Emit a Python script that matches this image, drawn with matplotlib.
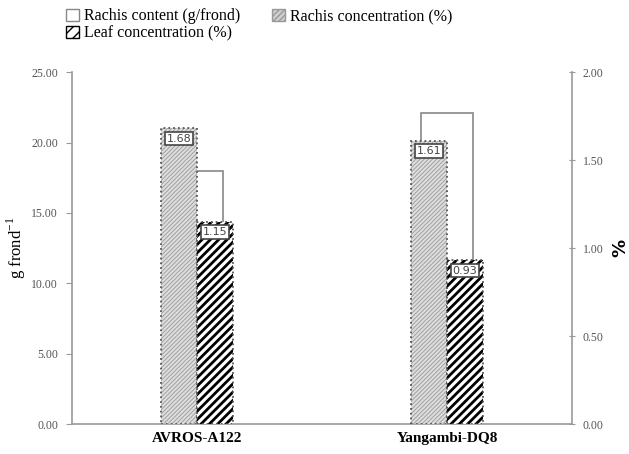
import matplotlib.pyplot as plt
import matplotlib as mpl
from matplotlib.patches import Patch
import numpy as np

# data
cultivars = ['AVROS-A122', 'Yangambi-DQ8']
rachis_content = [18.0, 22.1]      # g/frond, left axis
rachis_conc = [1.68, 1.61]         # %, right axis
leaf_conc = [1.15, 0.93]           # %, right axis

serif = ['Liberation Serif', 'DejaVu Serif']
grey_txt = '#555555'
plt.rcParams['mathtext.fontset'] = 'custom'
plt.rcParams['mathtext.rm'] = 'Liberation Serif'

fig = plt.figure(figsize=(6.29, 4.54), dpi=100)
ax = fig.add_axes([0.1145, 0.066, 0.795, 0.775])
ax2 = ax.twinx()

x = np.arange(len(cultivars))
w = 0.144

# rachis content (primary axis, behind)
ax.bar(x, rachis_content, width=0.21, color='white', edgecolor='#888888', linewidth=1.2)

# rachis concentration - fine light hatch
with mpl.rc_context({'hatch.linewidth': 0.7}):
    ax2.bar(x - w / 2, rachis_conc, width=w, color='#dedede', edgecolor='#a0a0a0',
            hatch='////////', linewidth=0)
ax2.bar(x - w / 2, rachis_conc, width=w, fill=False, edgecolor='#555555',
        linewidth=1.3, linestyle=':')

# leaf concentration - bold black hatch
with mpl.rc_context({'hatch.linewidth': 2.0}):
    ax2.bar(x + w / 2, leaf_conc, width=w, color='white', edgecolor='black',
            hatch='////', linewidth=0)
ax2.bar(x + w / 2, leaf_conc, width=w, fill=False, edgecolor='#555555',
        linewidth=1.3, linestyle=':')

# value boxes at top of the % bars
for xi, v in zip(x - w / 2, rachis_conc):
    ax2.text(xi, v - 0.03, f'{v:.2f}', ha='center', va='top', fontsize=8,
             color='#444444', bbox=dict(boxstyle='square,pad=0.15', fc='white',
                                        ec='#444444', lw=1.2))
for xi, v in zip(x + w / 2, leaf_conc):
    ax2.text(xi, v - 0.03, f'{v:.2f}', ha='center', va='top', fontsize=8,
             color='#444444', bbox=dict(boxstyle='square,pad=0.15', fc='white',
                                        ec='#444444', lw=1.2))

ax.set_xlim(-0.5, 1.5)
ax.set_ylim(0, 25)
ax2.set_ylim(0, 2)
ax.set_yticks(np.arange(0, 26, 5))
ax.set_yticklabels([f'{t:.2f}' for t in np.arange(0, 26, 5)])
ax2.set_yticks(np.arange(0, 2.01, 0.5))
ax2.set_yticklabels([f'{t:.2f}' for t in np.arange(0, 2.01, 0.5)])

ax.set_xticks(x)
ax.set_xticklabels(cultivars, fontsize=11, fontfamily=serif, fontweight='bold')
ax.tick_params(axis='x', length=0, pad=6)

for a in (ax, ax2):
    for s in a.spines.values():
        s.set_visible(False)
    for lab in a.get_yticklabels():
        lab.set_fontfamily(serif)
        lab.set_fontsize(8.5)
        lab.set_color(grey_txt)
ax.spines['left'].set_visible(True)
ax.spines['bottom'].set_visible(True)
ax2.spines['right'].set_visible(True)
for s in (ax.spines['left'], ax.spines['bottom'], ax2.spines['right']):
    s.set_color('#999999')
    s.set_linewidth(1.2)
ax.tick_params(axis='y', length=4, color='#999999', pad=6)
ax2.tick_params(axis='y', direction='inout', length=5, color='#999999', pad=5)

ax.set_ylabel(r'g frond$^{\mathrm{-1}}$', fontsize=12, fontfamily=serif)
ax.yaxis.set_label_coords(-0.088, 0.5)
ax2.set_ylabel('%', fontsize=13, fontweight='bold', labelpad=6)

# legend (column-major fill: content, leaf | rachis conc.)
handles = [
    Patch(facecolor='white', edgecolor='#888888', label='Rachis content (g/frond)'),
    Patch(facecolor='white', edgecolor='black', hatch='///',
          label='Leaf concentration (%)'),
    Patch(facecolor='#cfcfcf', edgecolor='#999999', hatch='//////',
          label='Rachis concentration (%)'),
]
fig.legend(handles=handles, loc='upper left', bbox_to_anchor=(0.09, 1.003), ncol=2,
           frameon=False, prop={'family': serif, 'size': 11.5}, handlelength=0.8,
           handleheight=0.8, handletextpad=0.3, columnspacing=2.0, labelspacing=0.1,
           borderaxespad=0.2)

fig.savefig('out.png', dpi=100)
